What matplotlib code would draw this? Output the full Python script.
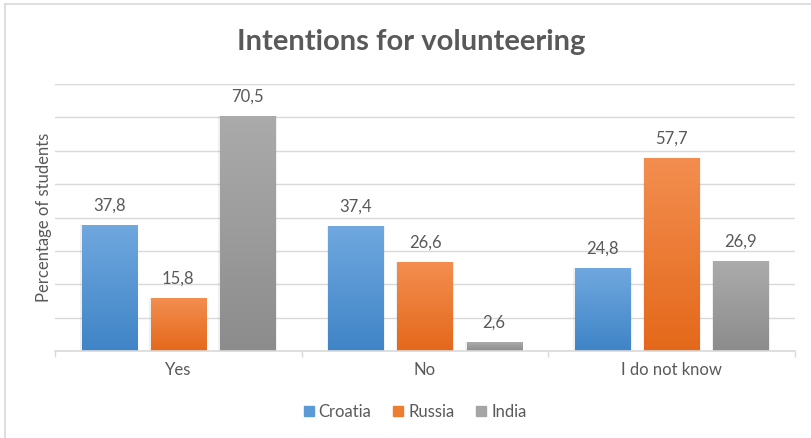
import matplotlib
matplotlib.use("Agg")
import matplotlib.pyplot as plt
import numpy as np
from matplotlib.colors import LinearSegmentedColormap

plt.rcParams['font.family'] = ['Lato', 'DejaVu Sans']

categories = ["Yes", "No", "I do not know"]
series_names = ["Croatia", "Russia", "India"]
croatia = [37.8, 37.4, 24.8]
russia = [15.8, 26.6, 57.7]
india = [70.5, 2.6, 26.9]
values = [croatia, russia, india]
top_colors = ["#70a8df", "#f38e50", "#ababab"]
bottom_colors = ["#3f84c7", "#e4681a", "#8c8c8c"]
legend_colors = ["#5b9bd5", "#ed7d31", "#a5a5a5"]

fig = plt.figure(figsize=(8.11, 4.38), dpi=100)
ax = fig.add_axes([55/811, 87/438, 740/811, 267/438])

x = np.arange(len(categories))
width = 0.223
step = 0.28
text_col = "#595959"
for i, (vals, name) in enumerate(zip(values, series_names)):
    offs = (i - 1) * step
    bars = ax.bar(x + offs, vals, width, color=legend_colors[i], label=name, zorder=2)
    cmap = LinearSegmentedColormap.from_list("g%d" % i, [bottom_colors[i], top_colors[i]])
    for b, v in zip(bars, vals):
        bx, by = b.get_x(), b.get_y()
        bw, bh = b.get_width(), b.get_height()
        # soft shadow
        ax.bar(bx + bw/2, bh, bw * 1.06, bottom=0, color="#000000", alpha=0.06, zorder=1.5)
        grad = np.linspace(0, 1, 256).reshape(-1, 1)
        im = ax.imshow(grad, cmap=cmap, origin="lower", aspect="auto",
                       extent=[bx, bx + bw, by, by + bh], zorder=2.5)
        im.set_clip_path(b)
        ax.text(bx + bw/2, v + 3.4, f"{v:.1f}".replace(".", ","), ha="center", va="bottom",
                fontsize=12, color=text_col, zorder=3)

ax.set_xlim(-0.5, 2.5)
ax.set_ylim(0, 80)
ax.set_yticks(np.arange(0, 81, 10))
ax.yaxis.grid(True, color="#d9d9d9", linewidth=1, zorder=0)
ax.set_axisbelow(True)
ax.tick_params(axis="y", left=False, labelleft=False)
ax.set_xticks(x)
ax.set_xticklabels(categories, fontsize=12, color=text_col)
ax.tick_params(axis="x", length=0, pad=8)
ax.set_xticks([-0.5, 0.5, 1.5, 2.5], minor=True)
ax.tick_params(axis="x", which="minor", length=4, color="#d9d9d9", width=1)
for s in ["top", "right", "left"]:
    ax.spines[s].set_visible(False)
ax.spines["bottom"].set_color("#d9d9d9")
ax.spines["bottom"].set_linewidth(1.2)

ax.set_ylabel("Percentage of students", fontsize=12, color=text_col, labelpad=2)

fig.text(411/811, 1 - 42/438, "Intentions for volunteering", ha="center", va="center",
         fontsize=21, fontweight="bold", color="#595959")

handles = [plt.Rectangle((0, 0), 1, 1, color=c) for c in legend_colors]
fig.legend(handles, series_names, loc="center", bbox_to_anchor=(415/811, 1 - 412/438),
           ncol=3, frameon=False, fontsize=12, labelcolor=text_col,
           handlelength=0.6, handleheight=0.6, handletextpad=0.3, columnspacing=1.3)

# figure border
fig.add_artist(plt.Line2D([5/811, 5/811], [0, 1 - 4/438], color="#d9d9d9", lw=1.2, transform=fig.transFigure))
fig.add_artist(plt.Line2D([5/811, 1], [1 - 4/438, 1 - 4/438], color="#d9d9d9", lw=1.2, transform=fig.transFigure))

fig.savefig("out.png", dpi=100)
